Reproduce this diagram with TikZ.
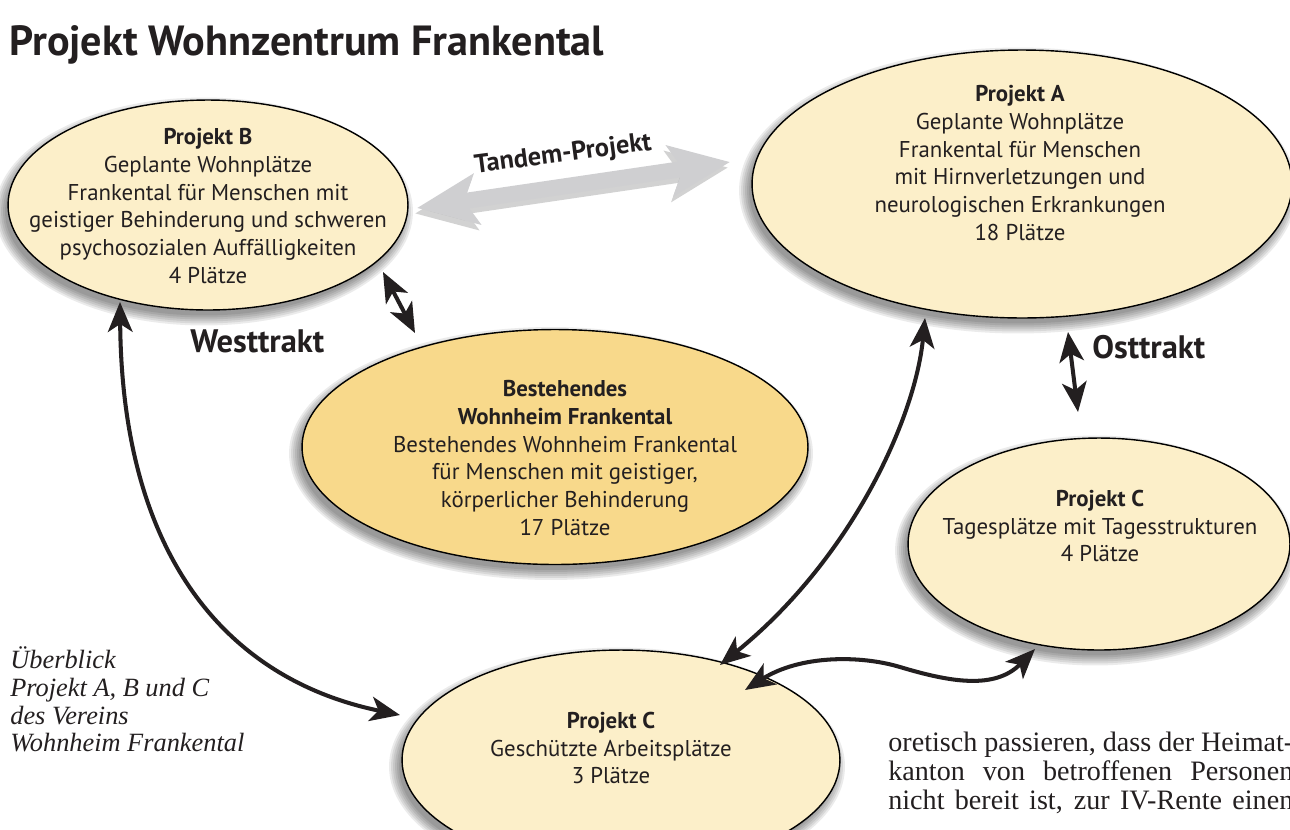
\documentclass[tikz,border=0pt]{standalone}
\usepackage{fontspec}
\setmainfont{Liberation Serif}
\setsansfont{PT Sans}
\usetikzlibrary{arrows.meta,shapes.geometric}
\definecolor{cream}{HTML}{FCEFC9}
\definecolor{gold}{HTML}{F8D98B}
\definecolor{tandem}{HTML}{CFCFD1}
\definecolor{ink}{HTML}{231F20}
\newcommand\shadowell[4]{%
  \foreach \d in {0.36,0.28,0.20,0.12,0.04,-0.04}{%
    \node[ellipse, fill=black, fill opacity=0.08, inner sep=0pt,
      minimum width={#3cm+\d cm}, minimum height={#4cm+\d cm}] at ([xshift=-0.08cm,yshift=-0.13cm]#1,#2) {};}}
\begin{document}
\begin{tikzpicture}[x=0.02cm,y=-0.02cm,
  proj/.style={ellipse, draw=black, line width=0.8pt, fill=cream, inner sep=0pt},
  txt/.style={font=\sffamily\fontsize{13}{15.9}\selectfont, align=center, inner sep=0pt, text=ink},
  lbl/.style={font=\sffamily\bfseries\fontsize{18.5}{21}\selectfont, inner sep=0pt, text=ink},
  blk/.style={line width=2.3pt, draw=ink, {Stealth[length=17pt,width=14pt,inset=4.5pt]}-{Stealth[length=17pt,width=14pt,inset=4.5pt]}},
  tand/.style={line width=0.32cm, {Stealth[length=1.2cm,width=1.0cm,inset=0.25cm]}-{Stealth[length=1.2cm,width=1.0cm,inset=0.25cm]}},
]
\useasboundingbox (0,0) rectangle (1290,829);
\clip (0,0) rectangle (1290,829);
\fill[white] (0,0) rectangle (1290,829);

% shadows
\shadowell{208}{205}{8}{4.2}
\shadowell{1022}{184}{10.8}{5.36}
\shadowell{555}{447}{10.12}{4.7}
\shadowell{1099}{544}{7.64}{4.24}
\shadowell{621}{760}{8.76}{4.4}

% ellipses
\node[proj, minimum width=8cm, minimum height=4.2cm] (B) at (208,205) {};
\node[proj, minimum width=10.8cm, minimum height=5.36cm] (A) at (1022,184) {};
\node[proj, fill=gold, minimum width=10.12cm, minimum height=4.7cm] (W) at (555,447) {};
\node[proj, minimum width=7.64cm, minimum height=4.24cm] (CR) at (1099,544) {};
\node[proj, minimum width=8.76cm, minimum height=4.4cm] (CB) at (621,760) {};

% texts
\node[txt] (Bt) at (208,206) {\textbf{Projekt B}\\Geplante Wohnplätze\\Frankental für Menschen mit\\geistiger Behinderung und schweren\\psychosozialen Auffälligkeiten\\4 Plätze};
\node[txt] (At) at (1020,163) {\textbf{Projekt A}\\Geplante Wohnplätze\\Frankental für Menschen\\mit Hirnverletzungen und\\neurologischen Erkrankungen\\18 Plätze};
\node[txt] (Wt) at (565,458) {\textbf{Bestehendes}\\\textbf{Wohnheim Frankental}\\Bestehendes Wohnheim Frankental\\für Menschen mit geistiger,\\körperlicher Behinderung\\17 Plätze};
\node[txt] (CRt) at (1100,526) {\textbf{Projekt C}\\Tagesplätze mit Tagesstrukturen\\4 Plätze};
\node[txt] (CBt) at (611,748) {\textbf{Projekt C}\\Geschützte Arbeitsplätze\\3 Plätze};

% title and labels
\node[anchor=base west, inner sep=0pt, text=ink, font=\sffamily\bfseries\fontsize{24}{28}\selectfont] (title) at (9,55) {Projekt Wohnzentrum Frankental};
\node[lbl, anchor=base west] (west) at (190,352) {Westtrakt};
\node[lbl, anchor=base west] (ost) at (1092,358) {Osttrakt};

% tandem arrow
\coordinate (tl) at (417,208);
\coordinate (tr) at (730,162);
\draw[tand, draw=black!50, opacity=0.35] ([xshift=-0.04cm,yshift=-0.11cm]tl) -- ([xshift=-0.04cm,yshift=-0.11cm]tr);
\draw[tand, draw=tandem] (tl) -- (tr);
\node[font=\sffamily\bfseries\fontsize{15}{18}\selectfont, text=ink, rotate=7.5, inner sep=0pt] (tlab) at (563,155) {Tandem-Projekt};

% black connectors
\coordinate (b1) at (383,272);
\coordinate (w1) at (415,333);
\draw[blk] (b1) -- (w1);

\coordinate (b2) at (120,302);
\coordinate (cb1) at (400,715);
\draw[blk] (b2) .. controls (122,560) and (230,680) .. (cb1);

\coordinate (cb2) at (720,665);
\coordinate (a1) at (925,318);
\draw[blk] (cb2) .. controls (850,560) and (915,420) .. (a1);

\coordinate (a2) at (1068,332);
\coordinate (cr1) at (1078,412);
\draw[blk] (a2) -- (cr1);

\coordinate (cb3) at (745,690);
\coordinate (cr2) at (1035,649);
\draw[blk] (cb3) .. controls (800,655) and (860,655) .. (900,667) .. controls (950,682) and (995,690) .. (cr2);

% side texts
\node[anchor=north west, align=left, inner sep=0pt, text=ink, font=\itshape\fontsize{15}{15.9}\selectfont] (over) at (10,646) {Überblick\\Projekt A, B und C\\des Vereins\\Wohnheim Frankental};
\node[anchor=north west, align=left, inner sep=0pt, text=ink, font=\fontsize{16}{16.4}\selectfont] (para) at (888,732) {%
\makebox[8.1cm][s]{oretisch passieren, dass der Heimat-}\\
\makebox[8.1cm][s]{kanton von betroffenen Personen}\\
\makebox[8.1cm][s]{nicht bereit ist, zur IV-Rente einen}};
\end{tikzpicture}
\end{document}
